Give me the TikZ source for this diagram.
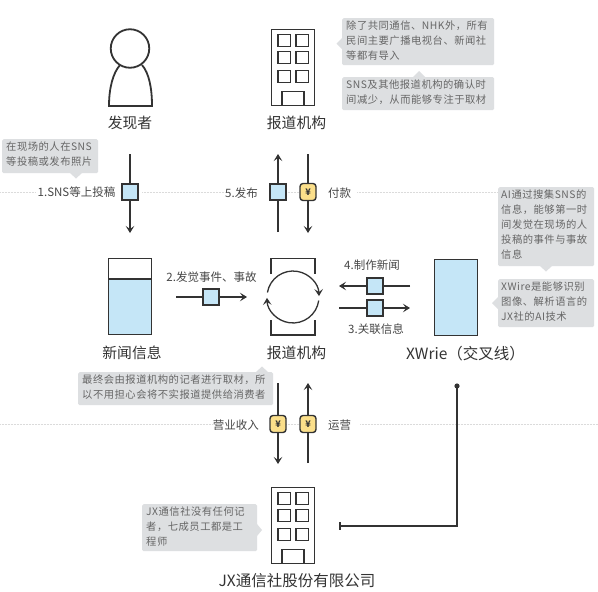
\documentclass[tikz,border=0pt]{standalone}
\usepackage{fontspec}
\setmainfont{Noto Sans CJK SC}
\newfontfamily\notefont[LetterSpace=5]{Noto Sans CJK SC}
\usetikzlibrary{arrows.meta}
\definecolor{ink}{HTML}{333333}
\definecolor{skyfill}{HTML}{C5E6F7}
\definecolor{yenfill}{HTML}{FBDF8A}
\definecolor{notefill}{HTML}{DDDFE1}
\definecolor{notetext}{HTML}{666666}
\tikzset{
  x=1pt,y=-1pt,
  icon/.style={draw=ink,line width=1.8pt,inner sep=0pt},
  bigicon/.style={icon,minimum width=43pt,minimum height=76pt},
  tag/.style={icon,line width=1.4pt,fill=skyfill,minimum size=16pt},
  yentag/.style={icon,line width=1.4pt,fill=yenfill,rounded corners=3pt,minimum width=16pt,minimum height=17pt,font=\fontsize{9}{9}\selectfont\bfseries,text=ink},
  flow/.style={draw=ink,line width=1.3pt,-{Stealth[length=7pt,width=8.5pt,inset=3pt]}},
  plain/.style={draw=ink,line width=1.3pt},
  title/.style={inner sep=0pt,text=ink,font=\fontsize{14.8}{16}\selectfont},
  small/.style={inner sep=0pt,text=ink!90,font=\fontsize{11.5}{13}\selectfont},
  note/.style={fill=notefill,rounded corners=1.5pt,inner sep=0pt,anchor=north west},
  notetxt/.style={inner sep=0pt,anchor=north west,text=notetext,align=left,font=\fontsize{10.3}{15}\notefont},
  tip/.style={fill=notefill,draw=none},
  guide/.style={draw=black!14,line width=.5pt,densely dotted},
}
\newcommand{\buildingicon}[3]{%
  \node[bigicon,fill=white] (#1) at (#2,#3) {};
  \begin{scope}[shift={(#2,#3)}]
    \foreach \wy in {-33,-16,3}{
      \draw[draw=ink,line width=1.1pt] (-15,\wy) rectangle ++(12.5,12);
      \draw[draw=ink,line width=1.1pt] (3,\wy) rectangle ++(12.5,12);
    }
    \draw[draw=ink,line width=1.1pt] (-11,38) -- (-11,24) -- (11,24) -- (11,38);
  \end{scope}}
\newcommand{\notebox}[8]{%
  \node[note,minimum width=#4pt-#2pt,minimum height=#5pt-#3pt] (#1) at (#2,#3) {};
  \fill[tip] #6;
  \node[notetxt] (#1t) at (#2+#7,#3+3) {#8};}
\begin{document}
\begin{tikzpicture}
\useasboundingbox (0,0) rectangle (598,592);
\fill[white] (0,0) rectangle (598,592);
% guides
\coordinate (g1a) at (0,192); \coordinate (g1b) at (36,192);
\coordinate (g2a) at (142,192); \coordinate (g2b) at (225,192);
\coordinate (g3a) at (357,192); \coordinate (g3b) at (498,192);
\coordinate (g4a) at (0,424); \coordinate (g4b) at (212,424);
\coordinate (g5a) at (360,424); \coordinate (g5b) at (598,424);
\coordinate (g8a) at (286,192); \coordinate (g8b) at (300,192);
\coordinate (g9a) at (286,424); \coordinate (g9b) at (300,424);
\foreach \ga/\gb in {g1a/g1b,g2a/g2b,g3a/g3b,g4a/g4b,g5a/g5b,g8a/g8b,g9a/g9b}
  \draw[guide] (\ga) -- (\gb);
% person
\node[icon,circle,minimum size=38.5pt] (head) at (130,48.5) {};
\coordinate (bodyL) at (109,106); \coordinate (bodyR) at (152,106);
\coordinate (neckL) at (120,65); \coordinate (neckR) at (142,65);
\draw[draw=ink,line width=1.8pt] (neckL) .. controls (113,73) and (109,88) .. (bodyL) -- (bodyR) .. controls (152,88) and (149,73) .. (neckR);
\node[title] (finder) at (130,123) {发现者};
% buildings
\buildingicon{press}{293}{67.5}
\node[title] (presslabel) at (296.5,123) {报道机构};
\buildingicon{jx}{293}{525.5}
\node[title,font=\fontsize{15.5}{17}\selectfont] (jxlabel) at (297,581) {JX通信社股份有限公司};
% news
\fill[skyfill] (108,279) rectangle (152,335);
\node[bigicon] (news) at (130,296.5) {};
\coordinate (newsA) at (108,279); \coordinate (newsB) at (152,279);
\draw[draw=ink,line width=1.1pt] (newsA) -- (newsB);
\node[title] (newslabel) at (132,353) {新闻信息};
% centre
\coordinate (cc) at (293,297);
\draw[draw=ink,line width=1.8pt] (271,274) -- (271,258.5) -- (315,258.5) -- (315,274);
\draw[draw=ink,line width=1.8pt] (271,320) -- (271,335) -- (315,335) -- (315,320);
\draw[flow] (267.4,292.5) arc[start angle=170,end angle=2,radius=26pt];
\draw[flow] (318.7,300.6) arc[start angle=-8,end angle=-178,radius=26pt];
\node[title] (centerlabel) at (296.5,353) {报道机构};
% xwire
\node[bigicon,fill=skyfill] (xwire) at (456,297.5) {};
\node[title,font=\fontsize{15.5}{17}\selectfont] (xlabel) at (465.5,354) {XWrie（交叉线）};
% flows
\coordinate (a1) at (130,154); \coordinate (a2) at (130,233);
\draw[flow] (a1) -- (a2);
\node[tag] (t1) at (130,192) {};
\node[small,anchor=east] (l1) at (115.5,192) {1.SNS等上投稿};
\coordinate (b1) at (278,232); \coordinate (b2) at (278,154);
\draw[flow] (b1) -- (b2);
\node[tag] (t5) at (278,192) {};
\node[small,anchor=east] (l5) at (258,193) {5.发布};
\coordinate (c1) at (308,154); \coordinate (c2) at (308,233);
\draw[flow] (c1) -- (c2);
\node[yentag] (y1) at (308,192) {¥};
\node[small,anchor=west] (l6) at (328,193) {付款};
\coordinate (d1) at (176,297); \coordinate (d2) at (247,297);
\draw[flow] (d1) -- (d2);
\node[tag] (t2) at (211,297) {};
\node[small] (l2) at (211.5,277) {2.发觉事件、事故};
\coordinate (e1) at (410,286); \coordinate (e2) at (339,286);
\draw[flow] (e1) -- (e2);
\node[tag] (t4) at (375,286) {};
\node[small] (l4) at (372,265) {4.制作新闻};
\coordinate (f1) at (339,308); \coordinate (f2) at (410,308);
\draw[flow] (f1) -- (f2);
\node[tag] (t3) at (375,308) {};
\node[small] (l3) at (376,329) {3.关联信息};
\coordinate (h1) at (278,383); \coordinate (h2) at (278,464);
\draw[flow] (h1) -- (h2);
\node[yentag] (y2) at (278,424) {¥};
\node[small,anchor=east] (l7) at (259,425) {营业收入};
\coordinate (k1) at (308,463); \coordinate (k2) at (308,383);
\draw[flow] (k1) -- (k2);
\node[yentag] (y3) at (308,424) {¥};
\node[small,anchor=west] (l8) at (328,425) {运营};
% jx link
\coordinate (m1) at (340,526); \coordinate (m2) at (457,526); \coordinate (m3) at (457,386);
\draw[plain] (m1) -- (m2) -- (m3);
\draw[plain] (340,522) -- (340,530);
\fill[ink] (m3) circle (2.6);
% notes
\notebox{n1}{2}{139}{98}{173}{(70,173) -- (76,178.5) -- (82,173) -- cycle}{4}{在现场的人在SNS\\等投稿或发布照片}
\notebox{n2}{342}{18}{494}{65}{(342,38) -- (336.5,43.5) -- (342,49) -- cycle}{4}{除了共同通信、NHK外，所有\\民间主要广播电视台、新闻社\\等都有导入}
\notebox{n3}{342}{77}{494}{110}{(413,77) -- (419,71) -- (425,77) -- cycle}{4}{SNS及其他报道机构的确认时\\间减少，从而能够专注于取材}
\notebox{n4}{498}{187}{594}{266}{(540,266) -- (546,271.5) -- (552,266) -- cycle}{3}{AI通过搜集SNS的\\信息，能够第一时\\间发觉在现场的人\\投稿的事件与事故\\信息}
\notebox{n5}{498}{279}{594}{327}{(498,297) -- (492,303) -- (498,309) -- cycle}{3}{XWire是能够识别\\图像、解析语言的\\JX社的AI技术}
\notebox{n6}{78}{372}{273}{405}{(256,372) -- (262,366.5) -- (268,372) -- cycle}{4}{最终会由报道机构的记者进行取材，所\\以不用担心会将不实报道提供给消费者}
\notebox{n7}{142}{504}{257}{551}{(257,524) -- (262,530) -- (257,536) -- cycle}{4}{JX通信社没有任何记\\者，七成员工都是工\\程师}
\end{tikzpicture}
\end{document}
